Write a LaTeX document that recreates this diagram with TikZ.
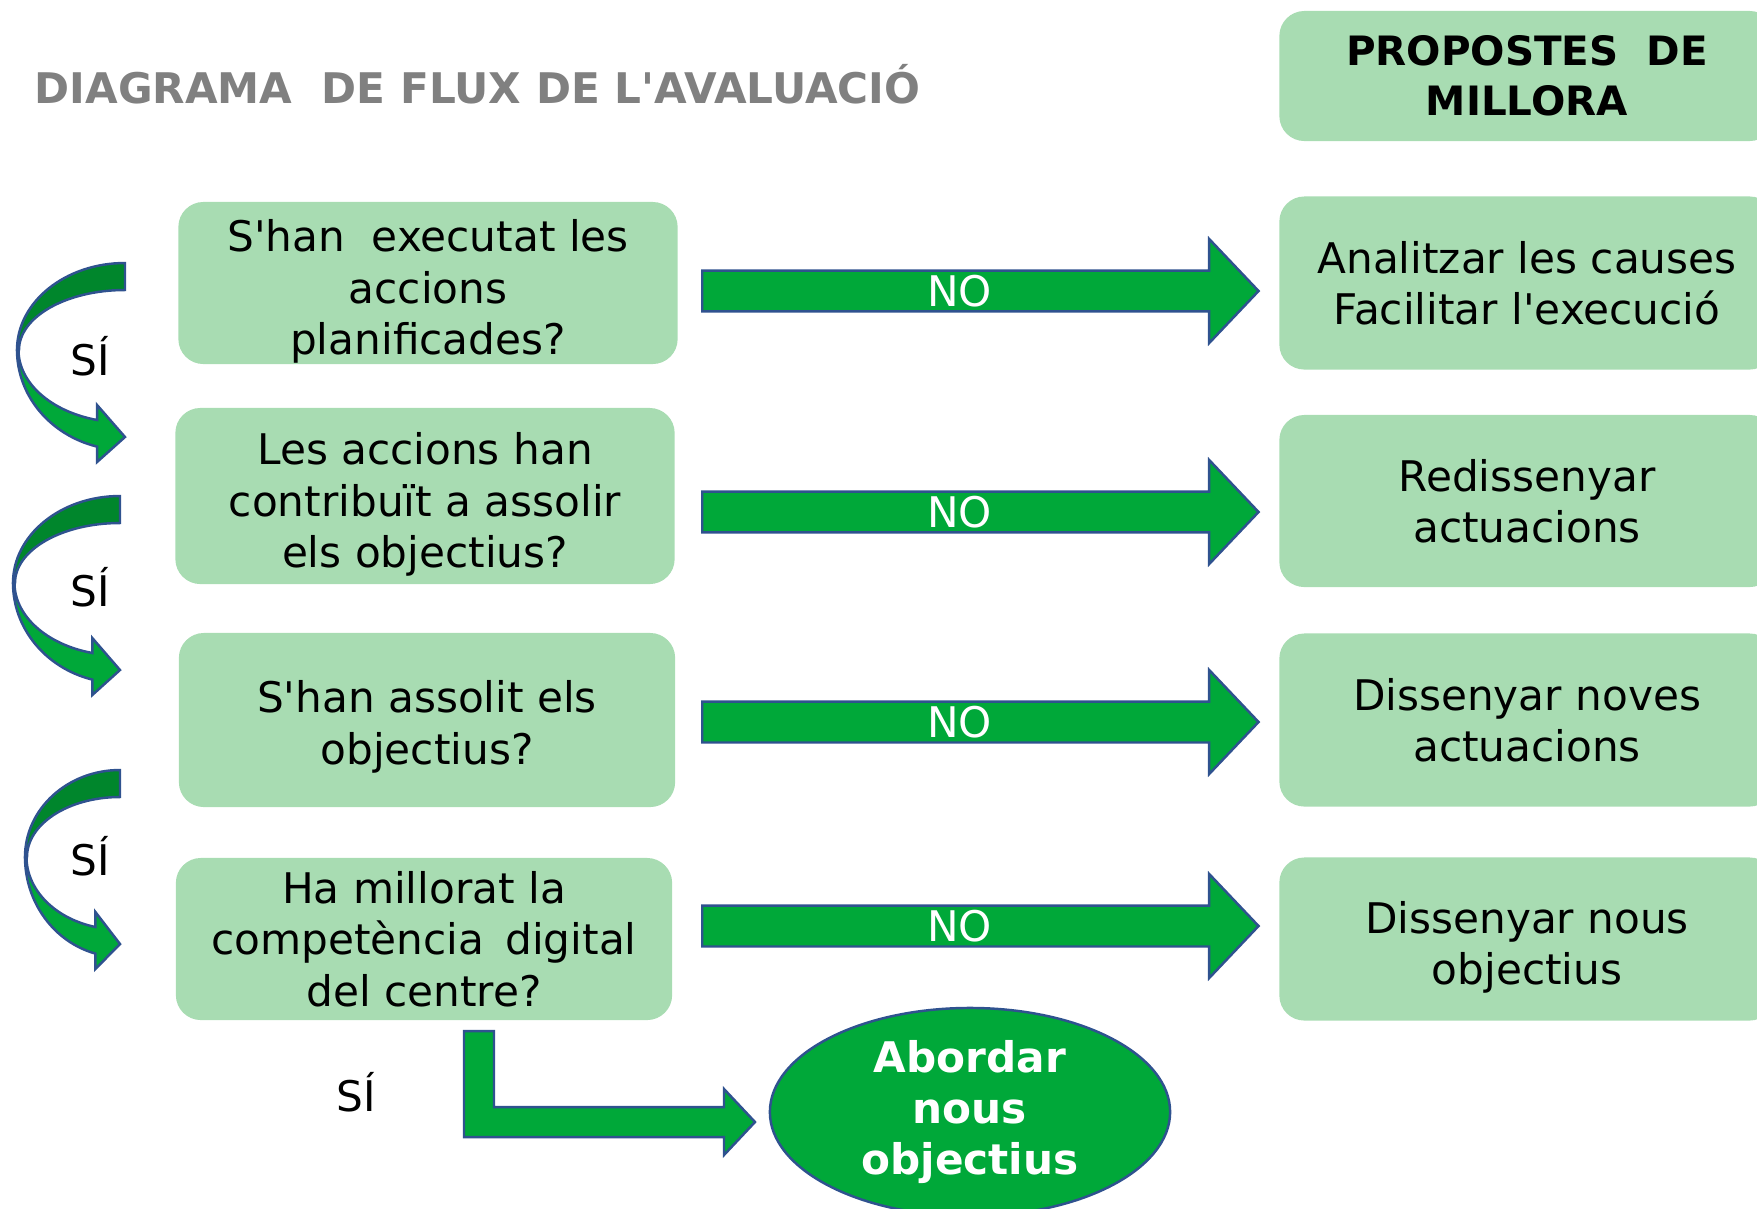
\documentclass[tikz,border=0pt]{standalone}
\usepackage{fontspec}
\newfontfamily\flowfont{DejaVu Sans}
\usepackage{tikz}
\usetikzlibrary{shapes.geometric,shapes.arrows}
\definecolor{boxgreen}{RGB}{168,220,178}
\definecolor{arrowgreen}{RGB}{0,168,57}
\definecolor{darkgreen}{RGB}{0,134,44}
\definecolor{edgeblue}{RGB}{47,82,143}
\definecolor{titlegray}{RGB}{128,128,128}

\begin{document}
\begin{tikzpicture}[x=0.01cm,y=-0.01cm,
  font=\flowfont\fontsize{12}{14.6}\selectfont,
  qbox/.style={rectangle,rounded corners=0.25cm,fill=boxgreen,align=center},
  noarrow/.style={single arrow,fill=arrowgreen,draw=edgeblue,line width=0.7pt,
    text=white,anchor=tail,minimum height=5.56cm,minimum width=1.04cm,
    single arrow head extend=0.265cm,single arrow tip angle=93},
  backband/.style={fill=darkgreen,draw=edgeblue,line width=0.7pt},
  frontband/.style={fill=arrowgreen,draw=edgeblue,line width=0.7pt,line join=miter},
  boldtext/.style={font=\flowfont\bfseries\fontsize{12}{14.6}\selectfont}]
\tikzstyle{every node}+=[inner sep=0pt]
\useasboundingbox (0,0) rectangle (1757,1208);
% title and header
\node [boldtext,text=titlegray,anchor=west] (title) at (34,84) {DIAGRAMA\ \ DE FLUX DE L'AVALUACIÓ};
\node [qbox,font=\flowfont\bfseries\fontsize{11.5}{14.2}\selectfont,minimum width=4.95cm,minimum height=1.30cm] (p0) at (1527,76) {PROPOSTES\ \ DE\\MILLORA};
% questions
\node [qbox,minimum width=4.99cm,minimum height=1.62cm] (q1) at (428,283) {\rule{0pt}{14pt}S'han\ \ executat les\\accions\\planificades?};
\node [qbox,minimum width=4.99cm,minimum height=1.76cm] (q2) at (425,496) {\rule{0pt}{14pt}Les accions han\\contribuït a assolir\\els objectius?};
\node [qbox,minimum width=4.96cm,minimum height=1.74cm] (q3) at (427,720) {\rule{0pt}{13pt}S'han assolit els\\objectius?};
\node [qbox,minimum width=4.96cm,minimum height=1.62cm] (q4) at (424,939) {Ha millorat la\\competència\hspace{0.5em}digital\\del centre?};
% proposals
\node [qbox,minimum width=4.95cm,minimum height=1.73cm] (p1) at (1527,283) {Analitzar les causes\\Facilitar l'execució};
\node [qbox,minimum width=4.95cm,minimum height=1.72cm] (p2) at (1527,501) {Redissenyar\\actuacions};
\node [qbox,minimum width=4.95cm,minimum height=1.73cm] (p3) at (1527,720) {Dissenyar noves\\actuacions};
\node [qbox,minimum width=4.95cm,minimum height=1.63cm] (p4) at (1527,939) {\rule{0pt}{14pt}Dissenyar nous\\objectius};
% NO arrows
\node [noarrow] (no1) at (701,291) {NO\hspace*{0.22cm}};
\node [noarrow] (no2) at (701,512) {NO\hspace*{0.22cm}};
\node [noarrow] (no3) at (701,722) {NO\hspace*{0.22cm}};
\node [noarrow] (no4) at (701,926) {NO\hspace*{0.22cm}};
% yes arrows
\foreach \X/\T/\R in {125/263/108,120/496/107,120/770/95}{
  \pgfmathsetmacro{\hb}{\X-0.2588*\R}
  \filldraw [backband] (\X,\T) arc[start angle=270,end angle=180,x radius=\R,y radius=87]
    -- (\X-\R+2,\T+87) arc[start angle=180,end angle=270,x radius=\R-2,y radius=60] -- cycle;
  \filldraw [frontband] (\X-\R,\T+87) arc[start angle=180,end angle=105,x radius=\R,y radius=100]
    -- (\hb,\T+199) -- (\X,\T+174) -- (\hb,\T+142) -- (\hb,\T+157)
    arc[start angle=105,end angle=180,x radius=\R-2,y radius=72.6] -- cycle;
}
\node (si1) at (90,356) {SÍ};
\node (si2) at (90,587) {SÍ};
\node (si3) at (90,856) {SÍ};
\node (si4) at (356,1092) {SÍ};
\filldraw [frontband] (464,1031) -- (494,1031) -- (494,1107) -- (724,1107) -- (724,1089) -- (755,1122)
  -- (724,1155) -- (724,1137) -- (464,1137) -- cycle;
\node [ellipse,fill=arrowgreen,draw=edgeblue,line width=0.7pt,minimum width=4.0cm,minimum height=2.08cm,
  boldtext,text=white,align=center] (goal) at (970,1112) {Abordar\\nous\\objectius};
\end{tikzpicture}
\end{document}
